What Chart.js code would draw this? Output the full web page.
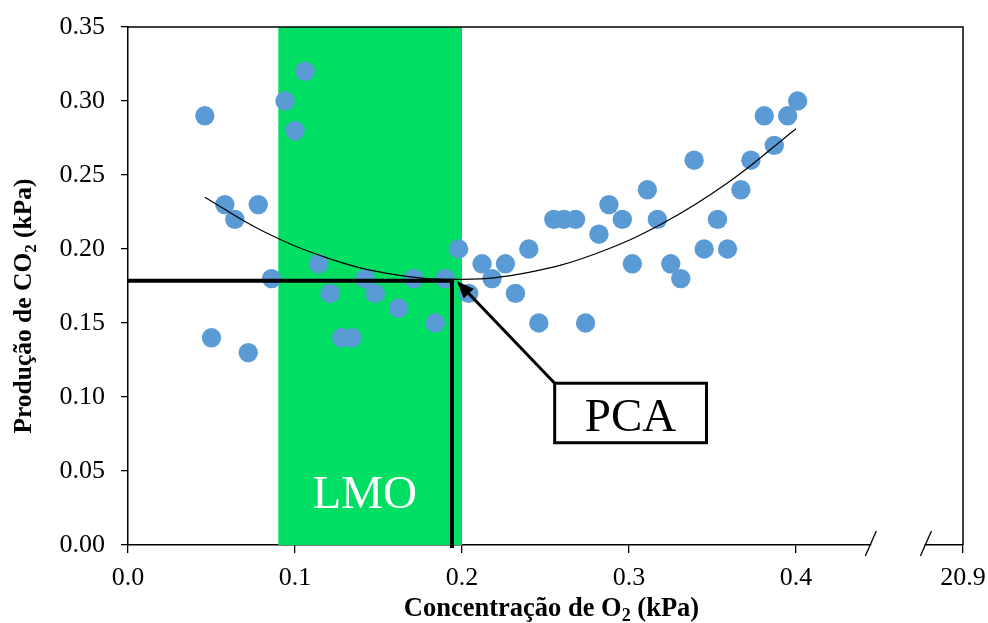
<!DOCTYPE html>
<html>
<head>
<meta charset="utf-8">
<script src="https://cdn.jsdelivr.net/npm/chart.js@4/dist/chart.umd.min.js"></script>
<style>
  html, body { margin: 0; padding: 0; background: #ffffff; }
  canvas { display: block; }
</style>
</head>
<body>
<canvas id="c" width="988" height="623"></canvas>
<script>
// O2 concentration (kPa) and CO2 production (kPa) for each measurement
const o2 = [0.046, 0.050, 0.058, 0.064, 0.072, 0.078, 0.086, 0.094, 0.100, 0.106,
            0.114, 0.121, 0.128, 0.134, 0.142, 0.148, 0.162, 0.171, 0.184, 0.190,
            0.198, 0.204, 0.212, 0.218, 0.226, 0.232, 0.240, 0.246, 0.255, 0.261,
            0.268, 0.274, 0.282, 0.288, 0.296, 0.302, 0.311, 0.317, 0.325, 0.331,
            0.339, 0.345, 0.353, 0.359, 0.367, 0.373, 0.381, 0.387, 0.395, 0.401];
const co2 = [0.29, 0.14, 0.23, 0.22, 0.13, 0.23, 0.18, 0.30, 0.28, 0.32,
             0.19, 0.17, 0.14, 0.14, 0.18, 0.17, 0.16, 0.18, 0.15, 0.18,
             0.20, 0.17, 0.19, 0.18, 0.19, 0.17, 0.20, 0.15, 0.22, 0.22,
             0.22, 0.15, 0.21, 0.23, 0.22, 0.19, 0.24, 0.22, 0.19, 0.18,
             0.26, 0.20, 0.22, 0.20, 0.24, 0.26, 0.29, 0.27, 0.29, 0.30];

// Polynomial trend line, sampled along the O2 range
const trendO2  = [0.046, 0.080, 0.120, 0.160, 0.200, 0.240, 0.280, 0.320, 0.360, 0.400];
const trendCo2 = [0.235, 0.2125, 0.1937, 0.1827, 0.1795, 0.1842, 0.1968, 0.2172, 0.2454, 0.2813];

// Axis ticks (the last x tick stands for ambient air, shown after the axis break)
const xTickValues = [0, 0.1, 0.2, 0.3, 0.4, 0.5];
const xTickLabels = ['0.0', '0.1', '0.2', '0.3', '0.4', '20.9'];
const yTickValues = [0, 0.05, 0.10, 0.15, 0.20, 0.25, 0.30, 0.35];
const yTickLabels = ['0.00', '0.05', '0.10', '0.15', '0.20', '0.25', '0.30', '0.35'];

// Lower oxygen limit band and the anaerobic compensation point
const lmoRange = [0.09, 0.20];
const pcaPoint = { o2: 0.194, co2: 0.1786 };

const SERIF = '"Liberation Serif", "Times New Roman", serif';

// Placement of the callouts, in axis units
const callout = {
  lmoLabel: { x: 0.1418, y: 0.025 },
  box: { x0: 0.2555, x1: 0.3464, yTop: 0.1093, yBottom: 0.0691 },
  boxText: { y: 0.077 },
  arrowTip: { x: 0.197, y: 0.1782 },
  axisBreak: [0.4445, 0.4775]
};

function drawRich(ctx, parts, cx, baseline, size) {
  // parts: [{text, sub}] drawn left to right, centred on cx
  const main = 'bold ' + size + 'px ' + SERIF;
  const small = 'bold ' + Math.round(size * 0.67) + 'px ' + SERIF;
  const drop = size * 0.19;
  let total = 0;
  parts.forEach(p => { ctx.font = p.sub ? small : main; total += ctx.measureText(p.text).width; });
  let x = cx - total / 2;
  ctx.textAlign = 'left';
  ctx.textBaseline = 'alphabetic';
  parts.forEach(p => {
    ctx.font = p.sub ? small : main;
    ctx.fillText(p.text, x, baseline + (p.sub ? drop : 0));
    x += ctx.measureText(p.text).width;
  });
}

const decorations = {
  id: 'decorations',
  beforeDatasetsDraw(chart) {
    const { ctx, chartArea: a, scales: { x, y } } = chart;
    ctx.save();
    const x0 = x.getPixelForValue(lmoRange[0]);
    const x1 = x.getPixelForValue(lmoRange[1]);
    ctx.fillStyle = '#00DE63';
    ctx.fillRect(x0, a.top, x1 - x0, a.bottom - a.top);
    ctx.fillStyle = '#ffffff';
    ctx.font = '47px ' + SERIF;
    ctx.textAlign = 'center';
    ctx.textBaseline = 'alphabetic';
    ctx.fillText('LMO', x.getPixelForValue(callout.lmoLabel.x), y.getPixelForValue(callout.lmoLabel.y));
    ctx.restore();
  },
  afterDraw(chart) {
    const { ctx, chartArea: a, scales: { x, y } } = chart;
    ctx.save();

    // frame: top and right edges
    ctx.strokeStyle = '#000';
    ctx.lineWidth = 1.5;
    ctx.beginPath();
    ctx.moveTo(a.left, a.top);
    ctx.lineTo(a.right, a.top);
    ctx.lineTo(a.right, a.bottom);
    ctx.stroke();

    // break in the x axis
    const b0 = x.getPixelForValue(callout.axisBreak[0]);
    const b1 = x.getPixelForValue(callout.axisBreak[1]);
    ctx.fillStyle = '#fff';
    ctx.fillRect(b0 + 1, a.bottom - 2, b1 - b0 - 2, 4);
    ctx.lineWidth = 1.3;
    ctx.beginPath();
    [b0, b1].forEach(bx => {
      ctx.moveTo(bx - 5, a.bottom + 11);
      ctx.lineTo(bx + 6, a.bottom - 14);
    });
    ctx.stroke();

    // compensation point guide lines
    const px = x.getPixelForValue(pcaPoint.o2);
    const py = y.getPixelForValue(pcaPoint.co2);
    ctx.lineWidth = 4;
    ctx.lineCap = 'butt';
    ctx.beginPath();
    ctx.moveTo(a.left, py);
    ctx.lineTo(px + 2, py);
    ctx.moveTo(px, py - 2);
    ctx.lineTo(px, a.bottom + 3);
    ctx.stroke();

    // arrow from the label box to the point
    const bx0 = x.getPixelForValue(callout.box.x0), bx1 = x.getPixelForValue(callout.box.x1);
    const byT = y.getPixelForValue(callout.box.yTop), byB = y.getPixelForValue(callout.box.yBottom);
    const tx = x.getPixelForValue(callout.arrowTip.x), ty = y.getPixelForValue(callout.arrowTip.y);
    const ang = Math.atan2(ty - byT, tx - bx0);
    const headLen = 17, headHalf = 7;
    const hx = tx - headLen * Math.cos(ang), hy = ty - headLen * Math.sin(ang);
    ctx.lineWidth = 3;
    ctx.beginPath();
    ctx.moveTo(bx0, byT);
    ctx.lineTo(hx, hy);
    ctx.stroke();
    ctx.fillStyle = '#000';
    ctx.beginPath();
    ctx.moveTo(tx, ty);
    ctx.lineTo(hx + headHalf * Math.sin(ang), hy - headHalf * Math.cos(ang));
    ctx.lineTo(hx - headHalf * Math.sin(ang), hy + headHalf * Math.cos(ang));
    ctx.closePath();
    ctx.fill();

    // label box
    ctx.fillStyle = '#fff';
    ctx.fillRect(bx0, byT, bx1 - bx0, byB - byT);
    ctx.lineWidth = 3;
    ctx.strokeRect(bx0, byT, bx1 - bx0, byB - byT);
    ctx.fillStyle = '#000';
    ctx.font = '47px ' + SERIF;
    ctx.textAlign = 'center';
    ctx.textBaseline = 'alphabetic';
    ctx.fillText('PCA', (bx0 + bx1) / 2, y.getPixelForValue(callout.boxText.y));

    // axis titles
    ctx.fillStyle = '#000';
    drawRich(ctx, [{ text: 'Concentração de O' }, { text: '2', sub: true }, { text: ' (kPa)' }],
             (a.left + a.right) / 2 + 6, 616, 26.5);
    ctx.save();
    ctx.translate(31, (a.top + a.bottom) / 2 + 20);
    ctx.rotate(-Math.PI / 2);
    drawRich(ctx, [{ text: 'Produção de CO' }, { text: '2', sub: true }, { text: ' (kPa)' }], 0, 0, 25.5);
    ctx.restore();

    ctx.restore();
  }
};

const tickFont = { family: SERIF, size: 26 };

new Chart(document.getElementById('c'), {
  data: {
    datasets: [
      {
        type: 'line',
        label: 'Tendência',
        data: trendO2.map((v, i) => ({ x: v, y: trendCo2[i] })),
        borderColor: '#000',
        borderWidth: 1.2,
        pointRadius: 0,
        tension: 0.4,
        fill: false
      },
      {
        type: 'scatter',
        label: 'CO2',
        data: o2.map((v, i) => ({ x: v, y: co2[i] })),
        backgroundColor: '#5B9BD5',
        borderColor: '#5B9BD5',
        borderWidth: 0,
        pointRadius: 9.7,
        pointHoverRadius: 9.7
      }
    ]
  },
  options: {
    responsive: false,
    animation: false,
    events: [],
    layout: { padding: { top: 27, right: 25, left: 0, bottom: 0 } },
    plugins: { legend: { display: false }, tooltip: { enabled: false } },
    scales: {
      x: {
        type: 'linear',
        position: 'bottom',
        min: 0,
        max: 0.5,
        z: 1,
        afterBuildTicks: s => { s.ticks = xTickValues.map(v => ({ value: v })); },
        afterFit: s => { s.height = 78; s.paddingLeft = 0; s.paddingRight = 0; },
        ticks: {
          font: tickFont,
          color: '#000',
          padding: 10,
          maxRotation: 0,
          autoSkip: false,
          callback: (v, i) => xTickLabels[i]
        },
        grid: { drawOnChartArea: false, drawTicks: true, tickLength: 8, color: '#000', lineWidth: 1.3 },
        border: { display: true, color: '#000', width: 1.5 }
      },
      y: {
        type: 'linear',
        position: 'left',
        min: 0,
        max: 0.35,
        z: 1,
        afterBuildTicks: s => { s.ticks = yTickValues.map(v => ({ value: v })); },
        afterFit: s => { s.width = 128; s.paddingTop = 0; s.paddingBottom = 0; },
        ticks: {
          font: tickFont,
          color: '#000',
          padding: 16,
          autoSkip: false,
          callback: (v, i) => yTickLabels[i]
        },
        grid: { drawOnChartArea: false, drawTicks: true, tickLength: 7, color: '#000', lineWidth: 1.3 },
        border: { display: true, color: '#000', width: 1.5 }
      }
    }
  },
  plugins: [decorations]
});
</script>
</body>
</html>
